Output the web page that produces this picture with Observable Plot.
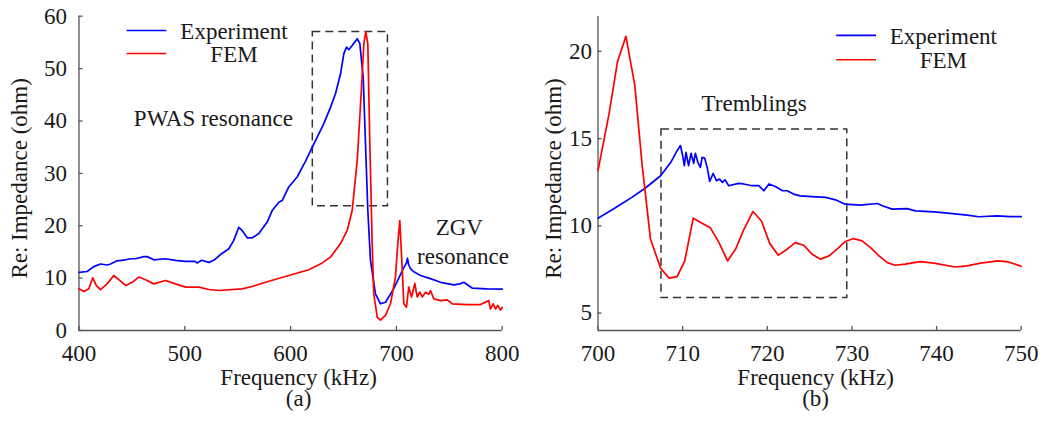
<!DOCTYPE html>
<html><head><meta charset="utf-8">
<script src="https://cdn.jsdelivr.net/npm/d3@7"></script>
<script src="https://cdn.jsdelivr.net/npm/@observablehq/plot@0.6"></script>
<style>
body{margin:0;background:#fff;}
#wrap{display:flex;width:1047px;height:421px;overflow:hidden;}
svg{display:block;overflow:visible}
#wrap svg, #wrap svg text, #wrap svg g{font-family:"Liberation Serif","Times New Roman",serif !important;}
#wrap svg text{font-size:23px;}
</style>
</head><body><div id="wrap"></div>
<script>
// ---------- data ----------
const seriesNames = ["Experiment", "FEM"];
const xLabel = "Frequency (kHz)";
const yLabel = "Re: Impedance (ohm)";
const panelTags = ["(a)", "(b)"];

const aXTicks = [400, 500, 600, 700, 800];
const aYTicks = [0, 10, 20, 30, 40, 50, 60];
const bXTicks = [700, 710, 720, 730, 740, 750];
const bYTicks = [5, 10, 15, 20];

const aExpFreq = [400,407.7,414,420.3,426.6,429.8,436,444,448.7,453.4,461.3,464.4,470.7,481.8,491.2,500.7,509.5,511.7,515.8,522.7,527.4,533.7,541.6,546.3,551,554.2,559,563.7,570,577.9,582.6,588.9,592,598.3,606.2,614,621.9,631.4,637.7,642.4,647.2,650.3,652.8,655,658.2,663,665.4,668.6,670.8,673,675.5,680.2,685,689.7,697.5,707,709.5,710.5,711.5,713.3,716.5,722.8,732.2,741.7,754.3,760,763.7,771.6,785.8,800];
const aExpImp = [11.1,11.26,12.2,12.7,12.5,12.7,13.3,13.5,13.7,13.7,14.1,14.1,13.5,13.7,13.4,13.2,13.2,12.9,13.4,13.0,13.4,14.5,15.6,17.2,19.7,19.1,17.7,17.7,18.5,20.7,22.9,24.5,24.8,27.4,29.3,32.3,35.6,39.5,42.6,45.2,49.0,52.8,54.1,53.6,54.4,55.7,54.8,48.4,35.6,22.9,13.4,7.0,5.1,5.4,8.0,12.0,12.9,13.8,12.6,11.8,11.2,10.5,9.9,9.2,8.7,8.9,9.2,8.1,7.96,7.9];

const aFemFreq = [400,404.5,409.3,413,416.3,420.3,426.6,432.9,437.6,444,450.3,456.5,462.9,470.7,481.8,491.2,500.7,513.2,522.7,532.1,554.2,563.7,579.4,598.3,617.2,630,637.7,647.2,653.5,658.2,663,666.7,669.2,671.1,673,674.9,677.1,678.6,681.9,685,689.7,694.4,699.1,701.3,703.2,705.1,707,709.5,711.7,714.3,717.4,719.6,722.1,724.4,727.5,730.6,732.2,735.4,741.7,748,752.7,766.9,779.5,787.3,788.9,791.5,793.7,795.8,798.4,800];
const aFemImp = [7.96,7.45,7.96,10.06,8.6,7.8,8.9,10.5,9.7,8.6,9.2,10.2,9.7,8.9,9.55,8.9,8.27,8.27,7.83,7.64,7.96,8.4,9.4,10.5,11.6,12.9,14.0,16.6,19.1,22.9,32.5,45.2,54.7,57.0,54.7,35.6,16.6,7.0,2.5,2.0,2.9,5.1,10.2,16.6,21.0,13.4,5.1,4.45,8.3,6.4,9.0,6.4,7.3,6.4,7.3,6.9,7.6,6.05,5.7,5.85,5.1,4.95,4.95,5.7,4.1,5.1,4.1,4.8,3.9,4.4];

const bExpFreq = [700,702.1,704.0,705.6,707.4,708.6,709.35,709.75,710.0,710.2,710.4,710.7,711.0,711.3,711.5,711.8,712.1,712.3,712.6,712.9,713.2,713.6,714.0,714.35,714.7,715.0,715.45,716.6,717.2,718.2,719.0,719.6,720.2,721.0,721.8,722.35,723.1,723.9,725.3,726.9,728.05,729.2,731.0,733.0,733.6,734.75,736.5,737.5,739.7,741.6,743.6,745.0,747.15,748.7,750];
const bExpImp = [10.44,11.05,11.63,12.17,12.87,13.64,14.31,14.6,14.02,13.45,14.21,13.45,14.16,13.58,14.16,13.64,13.35,13.93,13.89,13.35,12.55,13.0,12.59,12.68,12.49,12.64,12.3,12.43,12.4,12.3,12.3,12.01,12.4,12.24,12.01,12.01,11.82,11.72,11.68,11.63,11.49,11.24,11.19,11.28,11.15,10.96,10.99,10.86,10.8,10.71,10.61,10.52,10.57,10.53,10.53];

const bFemFreq = [700,701.3,702.3,703.3,704.35,705.2,706.2,707.4,708.4,709.35,710.25,711.25,713.3,714.3,715.3,716.25,717.2,718.3,719.3,720.3,721.3,722.35,723.3,724.3,725.3,726.3,727.3,728.25,729.2,730.2,731.2,732.2,733.2,734.2,735.1,736.3,738.1,739.7,742.2,743.6,745.2,747.2,748.5,750];
const bFemImp = [13.16,16.4,19.4,20.86,18.05,13.55,9.24,7.57,7.0,7.09,7.99,10.44,9.87,9.04,7.99,8.66,9.75,10.82,10.29,8.98,8.32,8.66,9.04,8.89,8.37,8.09,8.28,8.66,9.10,9.27,9.14,8.75,8.28,7.89,7.74,7.8,7.95,7.86,7.64,7.70,7.86,7.99,7.93,7.68];

// ---------- styles ----------
const colors = ["#0000ff", "#ff0000"];
const font = "Liberation Serif";
const fs = 23;
const axisColor = "#555";
const textColor = "#1a1a1a";
const T = {fontSize: fs, fontFamily: font, fill: textColor};

function rows(fx, fy) { return fx.map((x, i) => ({x, y: fy[i]})); }

function panel(cfg) {
  const H = 421;
  const plotH = H - cfg.mt - cfg.mb;
  const plotW = cfg.width - cfg.ml - cfg.mr;
  const series = [rows(cfg.expF, cfg.expV), rows(cfg.femF, cfg.femV)];
  const leg = seriesNames.map((name, i) => ({name, color: colors[i], y: cfg.legY[i], ty: cfg.legTY[i]}));
  return Plot.plot({
    width: cfg.width, height: H,
    marginLeft: cfg.ml, marginRight: cfg.mr, marginTop: cfg.mt, marginBottom: cfg.mb,
    style: {fontFamily: font, fontSize: fs + "px", color: textColor, background: "white", overflow: "visible"},
    x: {domain: cfg.xd, ticks: cfg.xt, tickSize: 0, tickPadding: 14, label: null},
    y: {domain: cfg.yd, ticks: cfg.yt, tickSize: 0, tickPadding: cfg.ypad, label: null},
    marks: [
      Plot.ruleX([cfg.xd[0]], {stroke: axisColor, strokeWidth: 1.3}),
      Plot.ruleY([cfg.yd[0]], {stroke: axisColor, strokeWidth: 1.3}),
      Plot.tickX(cfg.xt, {x: d => d, insetTop: plotH - 4, stroke: axisColor, strokeWidth: 1.3}),
      Plot.tickY(cfg.yt, {y: d => d, insetRight: plotW - 4, stroke: axisColor, strokeWidth: 1.3}),
      Plot.rect([cfg.box], {x1: "x1", x2: "x2", y1: "y1", y2: "y2", fill: "none", stroke: "#333", strokeWidth: 1.5, strokeDasharray: "8,5"}),
      Plot.line(series[0], {x: "x", y: "y", stroke: colors[0], strokeWidth: 1.7}),
      Plot.line(series[1], {x: "x", y: "y", stroke: colors[1], strokeWidth: 1.7}),
      Plot.ruleY(leg, {y: "y", x1: cfg.legX[0], x2: cfg.legX[1], stroke: "color", strokeWidth: 1.7}),
      Plot.text(leg, {x: cfg.legX[2], y: "ty", text: "name", ...T}),
      Plot.text(cfg.notes, {x: "x", y: "y", text: "t", ...T}),
      Plot.text([xLabel], {frameAnchor: "bottom", textAnchor: "middle", lineAnchor: "middle", dx: cfg.labDx, dy: 47, ...T}),
      Plot.text([cfg.tag], {frameAnchor: "bottom", textAnchor: "middle", lineAnchor: "middle", dx: cfg.labDx, dy: 68, ...T}),
      Plot.text([yLabel], {frameAnchor: "left", textAnchor: "middle", lineAnchor: "middle", rotate: -90, dx: cfg.ylDx, dy: 5, ...T})
    ]
  });
}

const wrap = document.getElementById("wrap");
wrap.appendChild(panel({
  width: 524, ml: 78.5, mr: 22.3, mt: 15.7, mb: 91,
  xd: [400, 800], yd: [0, 60], xt: aXTicks, yt: aYTicks, ypad: 12,
  expF: aExpFreq, expV: aExpImp, femF: aFemFreq, femV: aFemImp,
  box: {x1: 621, x2: 692, y1: 23.7, y2: 57},
  legX: [445.5, 483, 546.5], legY: [57.27, 52.88], legTY: [57.1, 52.7],
  notes: [{x: 527, y: 40.4, t: "PWAS resonance"}, {x: 759.5, y: 19.6, t: "ZGV"}, {x: 763, y: 14.1, t: "resonance"}],
  labDx: 8, ylDx: -59.5, tag: panelTags[0]
}));
wrap.appendChild(panel({
  width: 523, ml: 73.5, mr: 26.3, mt: 16, mb: 91,
  xd: [700, 750], yd: [4, 22], xt: bXTicks, yt: bYTicks, ypad: 6,
  expF: bExpFreq, expV: bExpImp, femF: bFemFreq, femV: bFemImp,
  box: {x1: 707.5, x2: 729.45, y1: 5.86, y2: 15.52},
  legX: [728.2, 732.9, 740.8], legY: [20.92, 19.52], legTY: [20.85, 19.45],
  notes: [{x: 718.45, y: 17.03, t: "Tremblings"}],
  labDx: 6, ylDx: -44.5, tag: panelTags[1]
}));
</script>
</body></html>
